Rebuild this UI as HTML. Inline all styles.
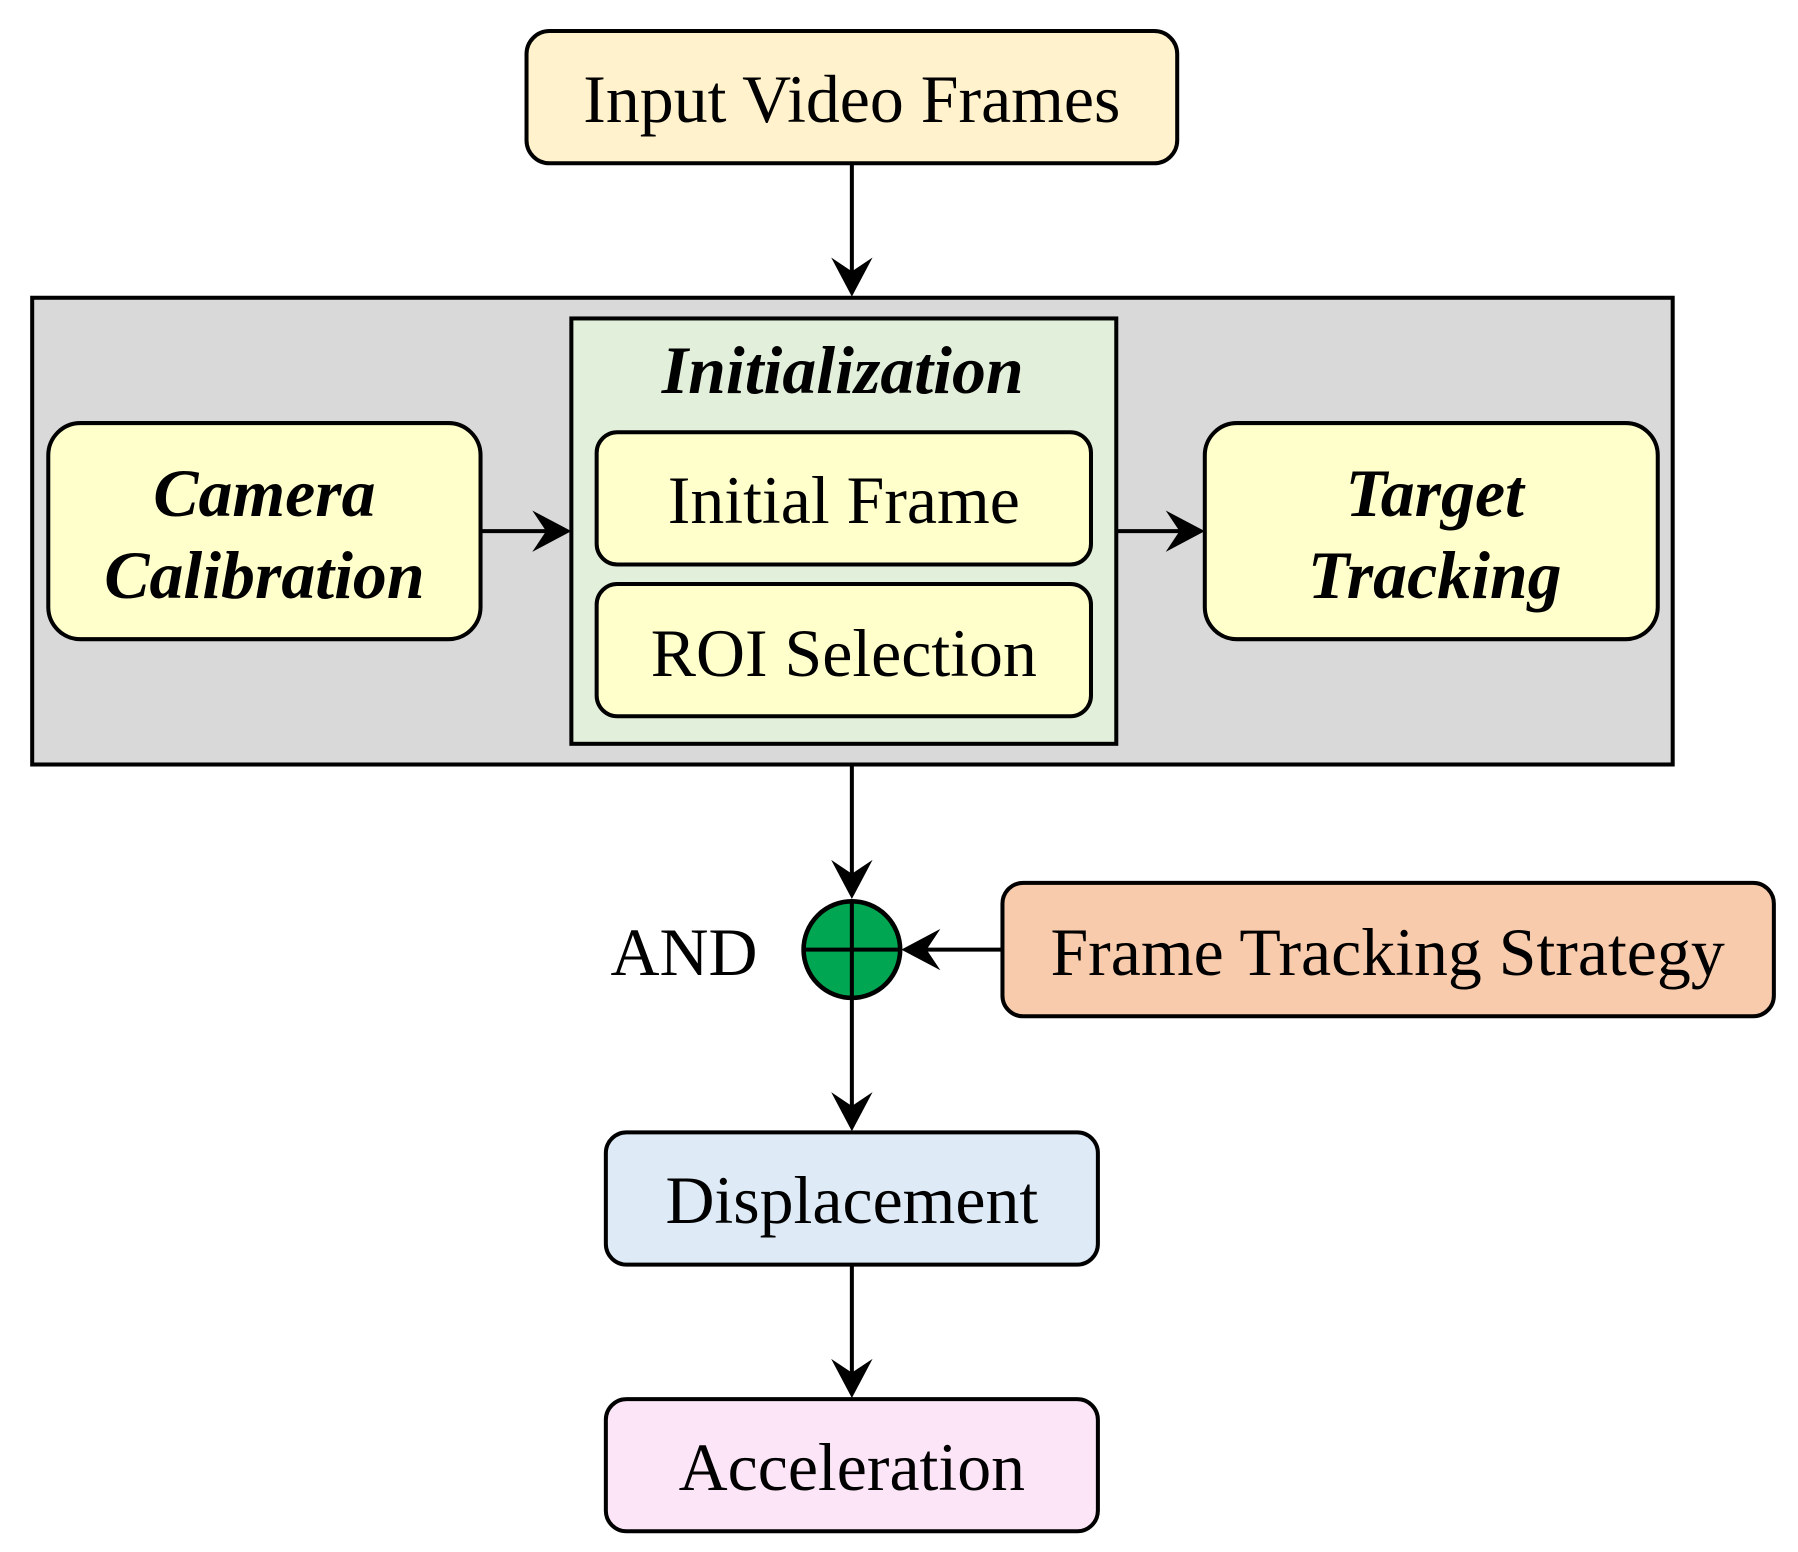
<!DOCTYPE html>
<html><head><meta charset="utf-8"><style>html,body{margin:0;padding:0;background:#fff}svg{display:block}</style></head>
<body>
<svg width="1798" height="1552" viewBox="0 0 1564 1350" xmlns="http://www.w3.org/2000/svg" font-family="'Liberation Serif', serif">
<g stroke="#000" stroke-width="3.5">
<rect x="458" y="27" width="566" height="115" rx="20" fill="#fff2cc"/>
<rect x="28" y="259" width="1427" height="406" fill="#d9d9d9"/>
<rect x="497" y="277" width="474" height="370" fill="#e2efda"/>
<rect x="519" y="376" width="430" height="115" rx="18" fill="#ffffcc"/>
<rect x="519" y="508" width="430" height="115" rx="18" fill="#ffffcc"/>
<rect x="42" y="368" width="376" height="188" rx="28" fill="#ffffcc"/>
<rect x="1048" y="368" width="394" height="188" rx="28" fill="#ffffcc"/>
<rect x="872" y="768" width="671" height="116" rx="18" fill="#f8cbad"/>
<rect x="527" y="985" width="428" height="115" rx="18" fill="#deebf7"/>
<rect x="527" y="1217" width="428" height="115" rx="18" fill="#fbe5f7"/>
<circle cx="741" cy="826" r="42" fill="#00a651" stroke-width="4"/>
<line x1="699" y1="826" x2="783" y2="826"/>
<line x1="741" y1="784" x2="741" y2="868"/>
<g fill="none">
<line x1="741" y1="142" x2="741" y2="254"/>
<line x1="418" y1="462" x2="493" y2="462"/>
<line x1="971" y1="462" x2="1044" y2="462"/>
<line x1="741" y1="665" x2="741" y2="778"/>
<line x1="872" y1="826" x2="788" y2="826"/>
<line x1="741" y1="868" x2="741" y2="980"/>
<line x1="741" y1="1100" x2="741" y2="1212"/>
</g>
</g>
<g fill="#000">
<path d="M741 258 L723 224 L741 236 L759 224 Z"/>
<path d="M497 462 L463 444 L475 462 L463 480 Z"/>
<path d="M1048 462 L1014 444 L1026 462 L1014 480 Z"/>
<path d="M741 782 L723 748 L741 760 L759 748 Z"/>
<path d="M784 826 L818 808 L806 826 L818 844 Z"/>
<path d="M741 984 L723 950 L741 962 L759 950 Z"/>
<path d="M741 1216 L723 1182 L741 1194 L759 1182 Z"/>
</g>
<g font-size="59" text-anchor="middle" fill="#000">
<text x="741" y="106">Input Video Frames</text>
<text x="733" y="342" font-weight="bold" font-style="italic">Initialization</text>
<text x="734" y="455">Initial Frame</text>
<text x="734" y="588">ROI Selection</text>
<text x="230" y="449" font-weight="bold" font-style="italic">Camera</text>
<text x="230" y="520" font-weight="bold" font-style="italic">Calibration</text>
<text x="1248" y="449" font-weight="bold" font-style="italic">Target</text>
<text x="1248" y="520" font-weight="bold" font-style="italic">Tracking</text>
<text x="595" y="848">AND</text>
<text x="1207" y="848">Frame Tracking Strategy</text>
<text x="741" y="1064">Displacement</text>
<text x="741" y="1296">Acceleration</text>
</g>
</svg>
</body></html>
